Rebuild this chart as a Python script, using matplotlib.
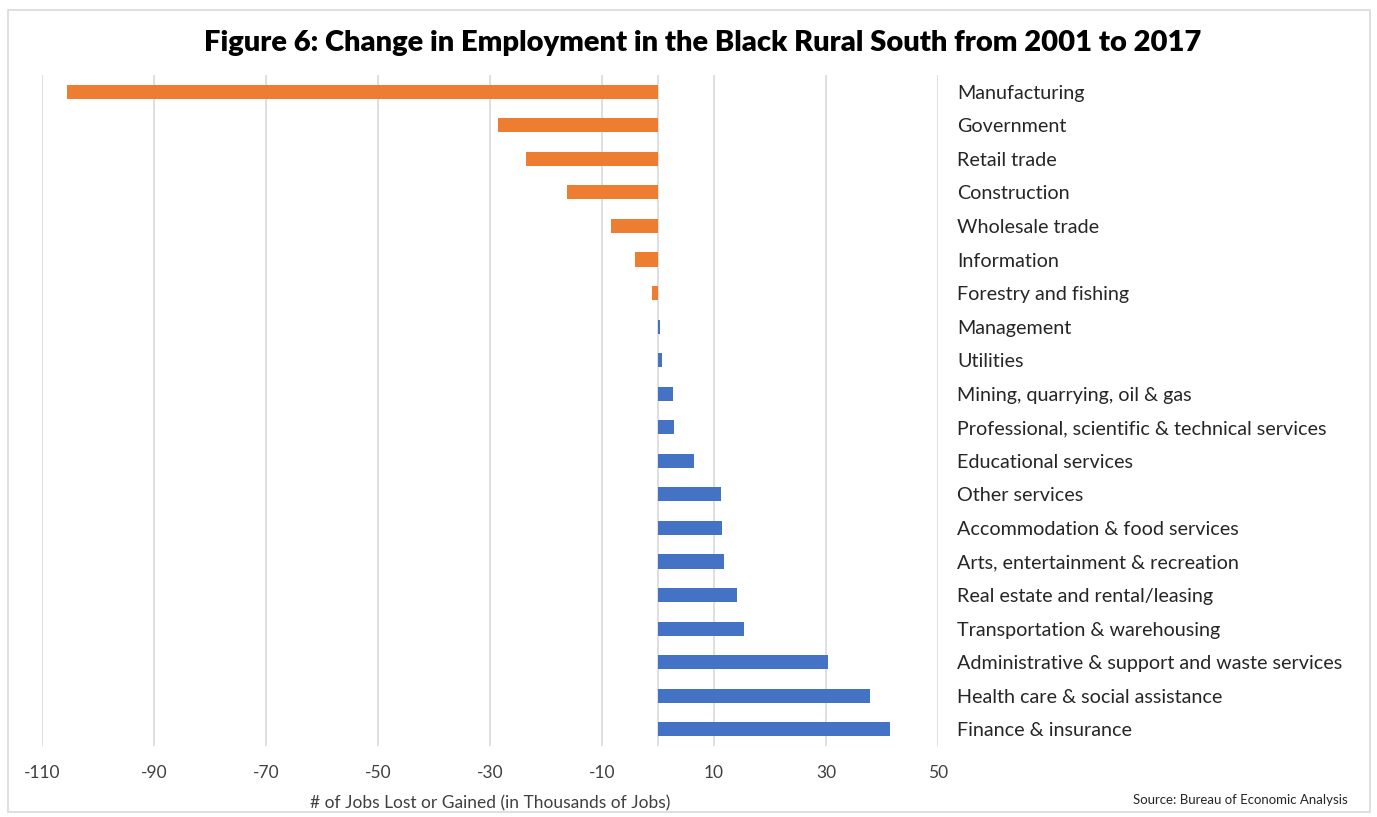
import matplotlib.pyplot as plt
from matplotlib.patches import Rectangle

industries = [
    "Manufacturing",
    "Government",
    "Retail trade",
    "Construction",
    "Wholesale trade",
    "Information",
    "Forestry and fishing",
    "Management",
    "Utilities",
    "Mining, quarrying, oil & gas",
    "Professional, scientific & technical services",
    "Educational services",
    "Other services",
    "Accommodation & food services",
    "Arts, entertainment & recreation",
    "Real estate and rental/leasing",
    "Transportation & warehousing",
    "Administrative & support and waste services",
    "Health care & social assistance",
    "Finance & insurance",
]
change = [
    -105.5, -28.6, -23.6, -16.3, -8.4, -4.1, -1.1, 0.3, 0.7, 2.7,
    2.9, 6.4, 11.2, 11.4, 11.8, 14.1, 15.4, 30.4, 37.9, 41.4,
]
xticks = [-110, -90, -70, -50, -30, -10, 10, 30, 50]

ORANGE = "#ED7D31"
BLUE = "#4472C4"

fig = plt.figure(figsize=(13.77, 8.17), dpi=100)
W, H = 1377, 817
ax = fig.add_axes([42 / W, 1 - 746 / H, (938 - 42) / W, (746 - 75) / H])

ypos = list(range(len(industries)))
colors = [ORANGE if v < 0 else BLUE for v in change]
ax.barh(ypos, change, height=0.42, color=colors, zorder=3)

ax.set_xlim(-110, 50)
ax.set_ylim(len(industries) - 0.5, -0.5)
ax.set_xticks(xticks)
ax.set_xticklabels([str(t) for t in xticks], fontsize=12.5, color="#404040",
                   family="Lato")
ax.tick_params(axis="x", length=0, pad=14)
for t in xticks:
    ax.axvline(t, color="#D9D9D9", lw=1.2, zorder=1)
ax.axvline(0, color="#D9D9D9", lw=1.2, zorder=1)

ax.yaxis.tick_right()
ax.set_yticks(ypos)
ax.set_yticklabels(industries, fontsize=14.2, color="#262626", family="Lato")
ax.tick_params(axis="y", length=0, pad=14)

for s in ax.spines.values():
    s.set_visible(False)

ax.set_xlabel("# of Jobs Lost or Gained (in Thousands of Jobs)", fontsize=12.5,
              color="#404040", family="Lato", labelpad=10)

fig.text(703 / W, 1 - 43 / H,
         "Figure 6: Change in Employment in the Black Rural South from 2001 to 2017",
         ha="center", va="center", fontsize=21, fontweight="heavy", family="Lato")
fig.text(1348 / W, 1 - 800 / H, "Source: Bureau of Economic Analysis",
         ha="right", va="center", fontsize=9.5, family="Lato", color="#262626")

fig.patches.append(Rectangle((8 / W, 5 / H), (1370 - 8) / W, (807 - 5) / H,
                             transform=fig.transFigure, fill=False,
                             edgecolor="#D9D9D9", lw=1.2))

fig.savefig("out.png", dpi=100)
